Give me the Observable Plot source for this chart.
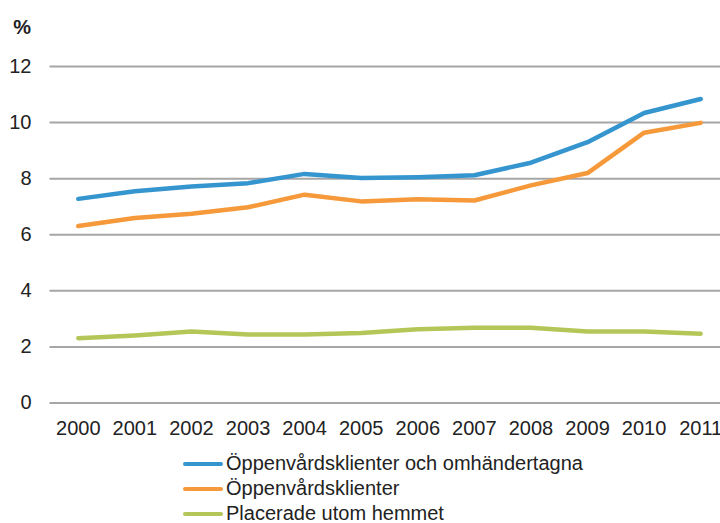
<!DOCTYPE html>
<html>
<head>
<meta charset="utf-8">
<script src="https://cdn.jsdelivr.net/npm/d3@7"></script>
<script src="https://cdn.jsdelivr.net/npm/@observablehq/plot@0.6"></script>
<style>
  html, body { margin: 0; padding: 0; background: #fff; }
  body { width: 720px; height: 523px; position: relative; overflow: hidden; font-family: "Liberation Sans", Arial, sans-serif; }
  #chart { position: absolute; left: 0; top: 0; }
  #legend { position: absolute; left: 183px; top: 451px; font-size: 20px; color: #222; }
  .row { display: flex; align-items: center; height: 25px; }
  .sw { width: 40px; height: 4px; border-radius: 2px; margin-right: 3px; }
</style>
</head>
<body>
<div id="chart"></div>
<div id="legend"></div>
<script>
const years = [2000, 2001, 2002, 2003, 2004, 2005, 2006, 2007, 2008, 2009, 2010, 2011];
const seriesNames = ["Öppenvårdsklienter och omhändertagna", "Öppenvårdsklienter", "Placerade utom hemmet"];
const seriesColors = ["#3595cf", "#f5993b", "#b5c658"];
const oppOchOmh = [7.28, 7.55, 7.72, 7.84, 8.17, 8.02, 8.05, 8.12, 8.57, 9.30, 10.34, 10.84];
const oppenvard = [6.31, 6.60, 6.75, 6.98, 7.43, 7.19, 7.27, 7.22, 7.76, 8.20, 9.64, 9.99];
const placerade = [2.31, 2.41, 2.55, 2.44, 2.44, 2.50, 2.63, 2.68, 2.68, 2.55, 2.55, 2.47];
const yTicks = [0, 2, 4, 6, 8, 10, 12];

const allSeries = [oppOchOmh, oppenvard, placerade];
const data = [];
allSeries.forEach((vals, si) => {
  vals.forEach((v, i) => data.push({year: years[i], value: v, series: seriesNames[si]}));
});

const plot = Plot.plot({
  width: 720,
  height: 445,
  marginLeft: 49.5,
  marginRight: 0,
  marginTop: 66,
  marginBottom: 42.5,
  style: {fontFamily: "'Liberation Sans', Arial, sans-serif", fontSize: "20px", color: "#222", background: "transparent"},
  x: {type: "linear", domain: [1999.5, 2011.35], axis: null},
  y: {domain: [0, 12], axis: null},
  color: {domain: seriesNames, range: seriesColors},
  marks: [
    Plot.ruleY(yTicks, {stroke: "#a6a6a6", strokeWidth: 2}),
    Plot.axisY(yTicks, {tickSize: 0, tickPadding: 18.5, fontSize: 20, fill: "#222", label: null}),
    Plot.axisX(years, {tickSize: 0, tickPadding: 17.5, fontSize: 20, fill: "#222", tickFormat: d => String(d), label: null}),
    Plot.line(data, {x: "year", y: "value", z: "series", stroke: "series", strokeWidth: 4.5, strokeLinecap: "round", strokeLinejoin: "round"}),
    Plot.text(["%"], {frameAnchor: "top-left", dx: -27.8, dy: -38.8, fontWeight: "bold", fontSize: 20, fill: "#222", textAnchor: "middle", lineAnchor: "middle"})
  ]
});
document.getElementById("chart").appendChild(plot);

const legend = document.getElementById("legend");
seriesNames.forEach((name, i) => {
  const row = document.createElement("div");
  row.className = "row";
  const sw = document.createElement("div");
  sw.className = "sw";
  sw.style.background = seriesColors[i];
  const t = document.createElement("span");
  t.textContent = name;
  row.appendChild(sw);
  row.appendChild(t);
  legend.appendChild(row);
});
</script>
</body>
</html>
